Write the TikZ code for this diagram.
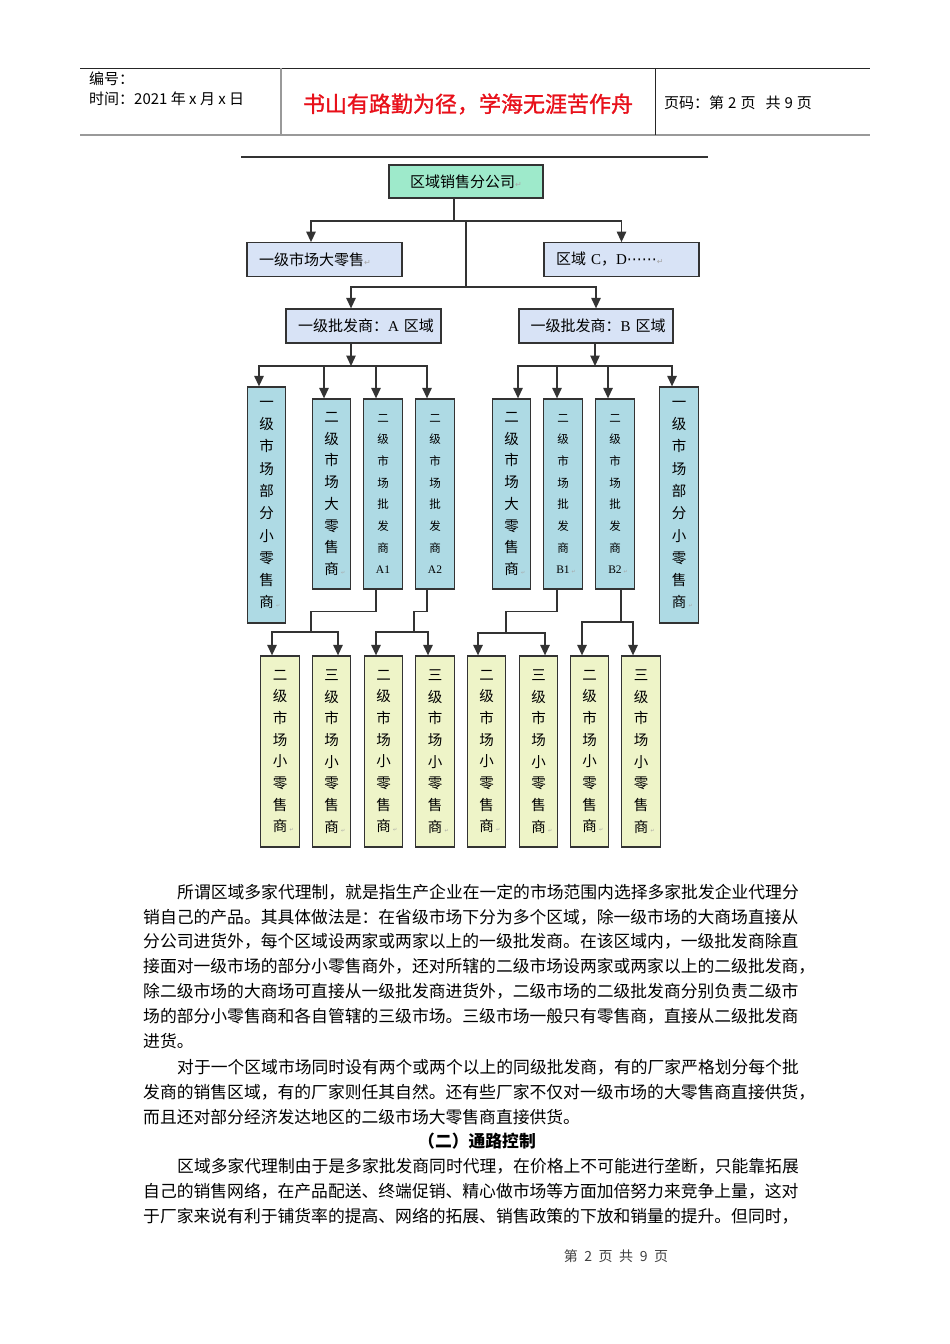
\documentclass[tikz,border=0pt]{standalone}
\usepackage{fontspec}
\setmainfont{Noto Sans CJK SC}
\newfontfamily\symf{DejaVu Sans}
\newfontfamily\latf{Liberation Serif}
\newfontfamily\mottof[FakeBold=1.2]{Noto Sans CJK SC}
\usetikzlibrary{arrows.meta,calc}
\definecolor{mint}{HTML}{9EEACB}
\definecolor{lav}{HTML}{D8E3F6}
\definecolor{cyanb}{HTML}{AEDAE4}
\definecolor{yel}{HTML}{EEF4C8}
\definecolor{edge}{HTML}{333333}
\definecolor{hred}{HTML}{E8101A}
\newcommand\rmark{{\symf\color{gray!70}\fontsize{8}{8}\selectfont ↵}}
\newcommand\smark{\rlap{\,{\symf\color{gray!70}\fontsize{5}{5}\selectfont ↵}}}
\newcommand\vtA{\fontsize{14.5}{22.3}\selectfont}
\newcommand\vtB{\fontsize{14.5}{21.7}\selectfont}
\newcommand\vtC{\fontsize{11.5}{21.7}\selectfont}
\newcommand\bodyf{\fontsize{16.8}{16.8}\selectfont}
\begin{document}
\begin{tikzpicture}[x=1pt,y=-1pt,
  box/.style={draw=edge, line width=1.3pt, inner sep=0pt},
  hbox/.style={box, minimum width=155pt, minimum height=33.5pt, text width=131pt, align=left, font=\fontsize{15}{15}\selectfont},
  vbox/.style={box, minimum width=38.5pt, align=center},
  ln/.style={draw=edge, line width=1.3pt},
  arr/.style={ln, -{Triangle[width=9.5pt,length=10.5pt]}},
  bodyline/.style={anchor=west, inner sep=0pt, font=\bodyf},
  hdr/.style={anchor=west, inner sep=0pt, font=\fontsize{15}{15}\selectfont}]
\useasboundingbox (0,0) rectangle (950,1344);
\fill[white] (0,0) rectangle (950,1344);
% header
\draw[line width=1pt, black!85] (80,68) -- (870,68);
\draw[line width=2pt, gray!80] (80,135) -- (870,135);
\draw[line width=1.3pt, gray!80] (281,68) -- (281,135);
\draw[line width=1pt, black!85] (655,68) -- (655,135);
\node[hdr] (hno) at (89,79) {编号：};
\node[hdr] (htime) at (89,99) {时间：2021 年 x 月 x 日};
\node[inner sep=0pt, font=\mottof\fontsize{22}{22}\selectfont, text=hred] (hmotto) at (468,104) {书山有路勤为径，学海无涯苦作舟};
\node[hdr] (hpage) at (664,103) {页码：第\hspace{4pt}2\hspace{4pt}页\hspace{10pt}共\hspace{4pt}9\hspace{4pt}页};
% diagram top rule
\draw[line width=2pt, edge] (241,157) -- (708,157);
% boxes
\node[box, fill=mint, minimum width=154pt, minimum height=33pt, font=\fontsize{15}{15}\selectfont] (top) at (466,181.5) {区域销售分公司\rmark};
\node[hbox, fill=lav] (l2a) at (324.5,259.5) {\mbox{一级市场大零售\rmark}};
\node[hbox, fill=lav] (l2b) at (621.5,259.5) {\mbox{区域 {\latf C}，{\latf D}{\symf\fontsize{15}{15}\selectfont ⋯⋯}\rmark}};
\node[hbox, fill=lav, minimum height=34pt] (l3a) at (363.5,326) {\mbox{一级批发商：{\latf A} 区域}};
\node[hbox, fill=lav, minimum height=34pt, minimum width=154pt] (l3b) at (596,326) {\mbox{一级批发商：{\latf B} 区域}};
% row 1 vertical
\node[vbox, fill=cyanb, minimum height=236pt, font=\vtA] (v1) at (266.5,505) {一\\级\\市\\场\\部\\分\\小\\零\\售\\商\smark};
\node[vbox, fill=cyanb, minimum height=190pt, font=\vtB] (v2) at (331.5,494) {二\\级\\市\\场\\大\\零\\售\\商\smark};
\node[vbox, fill=cyanb, minimum height=190pt, font=\vtC] (v3) at (383,494) {二\\级\\市\\场\\批\\发\\商\\{\latf A1}};
\node[vbox, fill=cyanb, minimum height=190pt, font=\vtC] (v4) at (435,494) {二\\级\\市\\场\\批\\发\\商\\{\latf A2}};
\node[vbox, fill=cyanb, minimum height=190pt, font=\vtB] (v5) at (511.5,494) {二\\级\\市\\场\\大\\零\\售\\商\smark};
\node[vbox, fill=cyanb, minimum height=190pt, font=\vtC] (v6) at (563,494) {二\\级\\市\\场\\批\\发\\商\\{\latf B1}\smark};
\node[vbox, fill=cyanb, minimum height=190pt, font=\vtC] (v7) at (615,494) {二\\级\\市\\场\\批\\发\\商\\{\latf B2}\smark};
\node[vbox, fill=cyanb, minimum height=236pt, font=\vtA] (v8) at (679,505) {一\\级\\市\\场\\部\\分\\小\\零\\售\\商\smark};
% row 2 vertical
\node[vbox, fill=yel, minimum height=191pt, font=\vtB] (b1) at (280,751.5) {二\\级\\市\\场\\小\\零\\售\\商\smark};
\node[vbox, fill=yel, minimum height=191pt, font=\vtB] (b2) at (331.5,751.5) {三\\级\\市\\场\\小\\零\\售\\商\smark};
\node[vbox, fill=yel, minimum height=191pt, font=\vtB] (b3) at (383.5,751.5) {二\\级\\市\\场\\小\\零\\售\\商\smark};
\node[vbox, fill=yel, minimum height=191pt, font=\vtB] (b4) at (435,751.5) {三\\级\\市\\场\\小\\零\\售\\商\smark};
\node[vbox, fill=yel, minimum height=191pt, font=\vtB] (b5) at (486.5,751.5) {二\\级\\市\\场\\小\\零\\售\\商\smark};
\node[vbox, fill=yel, minimum height=191pt, font=\vtB] (b6) at (538.5,751.5) {三\\级\\市\\场\\小\\零\\售\\商\smark};
\node[vbox, fill=yel, minimum height=191pt, font=\vtB] (b7) at (589.5,751.5) {二\\级\\市\\场\\小\\零\\售\\商\smark};
\node[vbox, fill=yel, minimum height=191pt, font=\vtB] (b8) at (641,751.5) {三\\级\\市\\场\\小\\零\\售\\商\smark};
% connectors top
\coordinate (j1) at (454,221);
\coordinate (j2) at (466,221);
\coordinate (j3) at (466,287);
\draw[ln] ([xshift=-12pt]top.south) -- (j1);
\draw[arr] (j1) -| ([xshift=-13.5pt]l2a.north);
\draw[arr] (j1) -| (l2b.north);
\draw[ln] (j2) -- (j3);
\draw[arr] (j3) -| ([xshift=-12.5pt]l3a.north);
\draw[arr] (j3) -| (l3b.north);
% connectors row 1
\coordinate (ja) at (351,366);
\coordinate (jb) at (595,366);
\draw[arr] ([xshift=-12.5pt]l3a.south) -- (ja);
\draw[arr] (ja) -| ([xshift=-7.5pt]v1.north);
\draw[arr] (ja) -| ([xshift=-7.5pt]v2.north);
\draw[arr] (ja) -| ([xshift=-7pt]v3.north);
\draw[arr] (ja) -| ([xshift=-8pt]v4.north);
\draw[arr] ([xshift=-1pt]l3b.south) -- (jb);
\draw[arr] (jb) -| ([xshift=6.5pt]v5.north);
\draw[arr] (jb) -| ([xshift=-6pt]v6.north);
\draw[arr] (jb) -| ([xshift=-7pt]v7.north);
\draw[arr] (jb) -| ([xshift=-7pt]v8.north);
% connectors row 2
\coordinate (ka) at (311,632);
\coordinate (kb) at (414,632);
\coordinate (kc) at (506,633);
\coordinate (kd) at (621,622);
\draw[ln] ([xshift=-7pt]v3.south) -- ++(0,22) -| (ka);
\draw[arr] (ka) -| ([xshift=-8pt]b1.north);
\draw[arr] (ka) -| ([xshift=6.5pt]b2.north);
\draw[ln] ([xshift=-8pt]v4.south) -- ++(0,22) -| (kb);
\draw[arr] (kb) -| ([xshift=-7.5pt]b3.north);
\draw[arr] (kb) -| ([xshift=-7pt]b4.north);
\draw[ln] ([xshift=-6pt]v6.south) -- ++(0,22) -| (kc);
\draw[arr] (kc) -| ([xshift=-8.5pt]b5.north);
\draw[arr] (kc) -| ([xshift=6.5pt]b6.north);
\draw[ln] ([xshift=6pt]v7.south) -- (kd);
\draw[arr] (kd) -| ([xshift=-7.5pt]b7.north);
\draw[arr] (kd) -| ([xshift=-8pt]b8.north);
% body text
\node[bodyline] (t1) at (177,892) {所谓区域多家代理制，就是指生产企业在一定的市场范围内选择多家批发企业代理分};
\node[bodyline] (t2) at (143,917) {销自己的产品。其具体做法是：在省级市场下分为多个区域，除一级市场的大商场直接从};
\node[bodyline] (t3) at (143,941) {分公司进货外，每个区域设两家或两家以上的一级批发商。在该区域内，一级批发商除直};
\node[bodyline] (t4) at (143,966) {接面对一级市场的部分小零售商外，还对所辖的二级市场设两家或两家以上的二级批发商，};
\node[bodyline] (t5) at (143,991) {除二级市场的大商场可直接从一级批发商进货外，二级市场的二级批发商分别负责二级市};
\node[bodyline] (t6) at (143,1016) {场的部分小零售商和各自管辖的三级市场。三级市场一般只有零售商，直接从二级批发商};
\node[bodyline] (t7) at (143,1041) {进货。};
\node[bodyline] (t8) at (177,1067) {对于一个区域市场同时设有两个或两个以上的同级批发商，有的厂家严格划分每个批};
\node[bodyline] (t9) at (143,1092) {发商的销售区域，有的厂家则任其自然。还有些厂家不仅对一级市场的大零售商直接供货，};
\node[bodyline] (t10) at (143,1117) {而且还对部分经济发达地区的二级市场大零售商直接供货。};
\node[inner sep=0pt, font=\bodyf\bfseries] (t11) at (477,1141) {（二）通路控制};
\node[bodyline] (t12) at (177,1166) {区域多家代理制由于是多家批发商同时代理，在价格上不可能进行垄断，只能靠拓展};
\node[bodyline] (t13) at (143,1191) {自己的销售网络，在产品配送、终端促销、精心做市场等方面加倍努力来竞争上量，这对};
\node[bodyline] (t14) at (143,1216) {于厂家来说有利于铺货率的提高、网络的拓展、销售政策的下放和销量的提升。但同时，};
% footer
\node[inner sep=0pt, font=\fontsize{14}{14}\selectfont, text=black!75] (foot) at (616,1256) {第\hspace{6.5pt}2\hspace{6.5pt}页\hspace{6.5pt}共\hspace{6.5pt}9\hspace{6.5pt}页};
\end{tikzpicture}
\end{document}
